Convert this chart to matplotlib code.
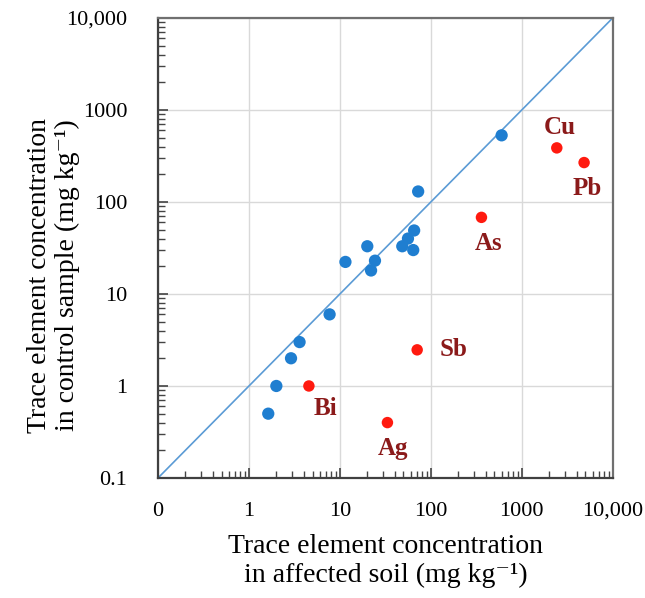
import matplotlib
matplotlib.use("Agg")
import matplotlib.pyplot as plt
from matplotlib.ticker import FixedLocator, LogLocator, NullFormatter

# Data
blue_x = [600, 72.5, 65.5, 56, 48.5, 64, 20, 24.3, 22, 11.5, 7.7, 3.6, 2.9, 2.0, 1.63]
blue_y = [530, 130, 49, 40, 33, 30, 33, 23, 18, 22.3, 6.0, 3.0, 2.0, 1.0, 0.5]

red_names = ["Cu", "Pb", "As", "Sb", "Bi", "Ag"]
red_x = [2425, 4840, 360, 70.7, 4.56, 33.3]
red_y = [387, 268, 68, 2.47, 1.0, 0.4]

tick_vals = [0.1, 1, 10, 100, 1000, 10000]
x_tick_labels = ["0", "1", "10", "100", "1000", "10,000"]
y_tick_labels = ["0.1", "1", "10", "100", "1000", "10,000"]

# label offsets in points (style)
label_offsets = {"Cu": (2, 15), "Pb": (2, -19), "As": (5, -19), "Sb": (26, 0),
                 "Bi": (12, -16), "Ag": (4, -19)}

plt.rcParams['font.family'] = ['Liberation Serif', 'DejaVu Serif']

fig = plt.figure(figsize=(6.45, 5.98), dpi=100)
ax = fig.add_axes([0.245, 0.2007, 0.705, 0.7693])
ax.set_xscale('log')
ax.set_yscale('log')
ax.set_xlim(0.1, 10000)
ax.set_ylim(0.1, 10000)

ax.grid(True, which='major', color='#d9d9d9', linewidth=1.0, zorder=0)
ax.set_axisbelow(True)

ax.plot([0.1, 10000], [0.1, 10000], color='#5b9bd5', linewidth=1.2, zorder=2)

ax.scatter(blue_x, blue_y, s=78, color='#1f7ed0', edgecolors='none', zorder=3)
ax.scatter(red_x, red_y, s=68, color='#ff1a0f', edgecolors='none', zorder=3)

for name, x, y in zip(red_names, red_x, red_y):
    dx, dy = label_offsets[name]
    ax.annotate(name, (x, y), xytext=(dx, dy), textcoords='offset points',
                ha='center', va='center', fontsize=18, fontweight='bold',
                color='#8b1a1a', zorder=4)

ax.xaxis.set_major_locator(FixedLocator(tick_vals))
ax.yaxis.set_major_locator(FixedLocator(tick_vals))
ax.set_xticklabels(x_tick_labels)
ax.set_yticklabels(y_tick_labels)
ax.xaxis.set_minor_locator(LogLocator(base=10, subs=range(2, 10), numticks=20))
ax.yaxis.set_minor_locator(LogLocator(base=10, subs=range(2, 10), numticks=20))
ax.xaxis.set_minor_formatter(NullFormatter())
ax.yaxis.set_minor_formatter(NullFormatter())

ax.tick_params(which='both', direction='in', color='#444444', labelsize=16,
               top=False, right=False)
ax.tick_params(which='major', length=7, width=1.2)
ax.tick_params(which='minor', length=5, width=1.0)
ax.tick_params(axis='x', which='major', pad=17)
ax.tick_params(axis='y', which='major', pad=22)

for side in ['left', 'bottom']:
    ax.spines[side].set_color('#404040')
    ax.spines[side].set_linewidth(1.6)
for side in ['top', 'right']:
    ax.spines[side].set_color('#707070')
    ax.spines[side].set_linewidth(1.6)

ax.set_xlabel("Trace element concentration\nin affected soil (mg kg\u207b\u00b9)",
              fontsize=20, linespacing=1.15, labelpad=10)
ax.set_ylabel("Trace element concentration\nin control sample (mg kg\u207b\u00b9)",
              fontsize=20, linespacing=1.15)
ax.yaxis.set_label_coords(-0.172, 0.44)

fig.savefig("out.png", dpi=100)
